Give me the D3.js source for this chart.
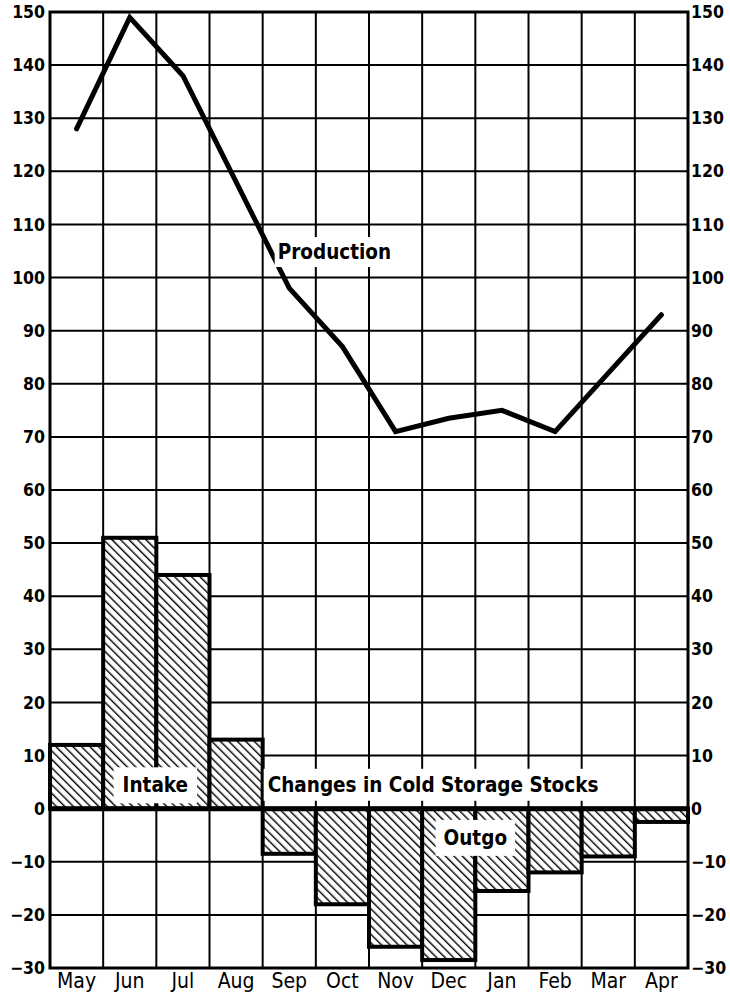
<!DOCTYPE html>
<html>
<head>
<meta charset="utf-8">
<script src="https://cdn.jsdelivr.net/npm/d3@7"></script>
<style>
  body { margin: 0; background: #fff; }
  text { font-family: "DejaVu Sans Condensed", "DejaVu Sans", sans-serif; }
</style>
</head>
<body>
<div id="chart"></div>
<script>
var months = ['May', 'Jun', 'Jul', 'Aug', 'Sep', 'Oct', 'Nov', 'Dec', 'Jan', 'Feb', 'Mar', 'Apr']
var production = [128, 149, 138, 118, 98, 87, 71, 73.5, 75, 71, 82, 93]
var stockChange = [12, 51, 44, 13, -8.5, -18, -26, -28.5, -15.5, -12, -9, -2.5]
var yTicks = [150, 140, 130, 120, 110, 100, 90, 80, 70, 60, 50, 40, 30, 20, 10, 0, -10, -20, -30]

var margin = { top: 12, right: 42, bottom: 31, left: 50 },
    width = 730 - margin.left - margin.right,
    height = 999 - margin.top - margin.bottom

var svg = d3.select('#chart').append('svg')
    .attr('width', 730).attr('height', 999)

var defs = svg.append('defs')
var pat = defs.append('pattern')
    .attr('id', 'hatch')
    .attr('patternUnits', 'userSpaceOnUse')
    .attr('width', 6).attr('height', 6)
    .attr('patternTransform', 'rotate(-45)')
pat.append('rect').attr('width', 6).attr('height', 6).attr('fill', '#fff')
pat.append('line').attr('x1', 0).attr('y1', 0).attr('x2', 0).attr('y2', 6)
    .attr('stroke', '#000').attr('stroke-width', 2.8)

var g = svg.append('g').attr('transform', 'translate(' + margin.left + ',' + margin.top + ')')

var x = d3.scaleBand().domain(months).range([0, width]).padding(0)
var y = d3.scaleLinear().domain([-30, 150]).range([height, 0])

// grid
g.append('g').selectAll('line.h').data(yTicks).enter().append('line')
    .attr('x1', 0).attr('x2', width)
    .attr('y1', function (d) { return y(d) }).attr('y2', function (d) { return y(d) })
    .attr('stroke', '#000').attr('stroke-width', 2)
g.append('g').selectAll('line.v').data(months.slice(1)).enter().append('line')
    .attr('x1', function (d) { return x(d) }).attr('x2', function (d) { return x(d) })
    .attr('y1', 0).attr('y2', height)
    .attr('stroke', '#000').attr('stroke-width', 2)

// bars
g.append('g').selectAll('rect').data(stockChange).enter().append('rect')
    .attr('x', function (d, i) { return x(months[i]) })
    .attr('width', x.bandwidth())
    .attr('y', function (d) { return y(Math.max(0, d)) })
    .attr('height', function (d) { return Math.abs(y(d) - y(0)) })
    .attr('fill', 'url(#hatch)')
    .attr('stroke', '#000').attr('stroke-width', 4)

// labels on bars with white boxes
function boxLabel(txt, cx, cy, size, anchor, padX, padY) {
    var t = g.append('text').attr('x', cx).attr('y', cy)
        .attr('text-anchor', anchor).attr('dominant-baseline', 'central')
        .attr('font-size', size).attr('font-weight', 'bold').text(txt)
    var bb = t.node().getBBox()
    g.insert('rect', function () { return t.node() })
        .attr('x', bb.x - padX).attr('y', bb.y - padY)
        .attr('width', bb.width + 2 * padX).attr('height', bb.height + 2 * padY)
        .attr('fill', '#fff')
    return t
}
boxLabel('Intake', x('Jul') - 1, y(4.4), 20.5, 'middle', 9, 6)
boxLabel('Outgo', x('Jan'), y(-5.5), 20.5, 'middle', 8, 6)
boxLabel('Changes in Cold Storage Stocks', x('Sep') + 5, y(4.5), 20.5, 'start', 4, 4)

// zero line
g.append('line').attr('x1', 0).attr('x2', width)
    .attr('y1', y(0)).attr('y2', y(0))
    .attr('stroke', '#000').attr('stroke-width', 5)

// production line
var line = d3.line()
    .x(function (d, i) { return x(months[i]) + x.bandwidth() / 2 })
    .y(function (d) { return y(d) })
g.append('path').datum(production)
    .attr('d', line).attr('fill', 'none')
    .attr('stroke', '#000').attr('stroke-width', 5)
    .attr('stroke-linejoin', 'miter').attr('stroke-linecap', 'round')

boxLabel('Production', x('Sep') + 15, y(104.8), 20.5, 'start', 3, 3)

// frame
g.append('rect').attr('width', width).attr('height', height)
    .attr('fill', 'none').attr('stroke', '#000').attr('stroke-width', 3)

// axes
var yl = g.append('g').call(d3.axisLeft(y).tickValues(yTicks).tickSize(0).tickPadding(5))
var yr = g.append('g').attr('transform', 'translate(' + width + ',0)')
    .call(d3.axisRight(y).tickValues(yTicks).tickSize(0).tickPadding(3))
var xb = g.append('g').attr('transform', 'translate(0,' + height + ')')
    .call(d3.axisBottom(x).tickSize(0).tickPadding(5))
;[yl, yr, xb].forEach(function (a) { a.select('.domain').remove() })
yl.selectAll('text').attr('font-size', 17.5).attr('font-weight', 'bold').attr('fill', '#000')
    .attr('font-family', 'DejaVu Sans, sans-serif')
yr.selectAll('text').attr('font-size', 17.5).attr('font-weight', 'bold').attr('fill', '#000')
    .attr('font-family', 'DejaVu Sans, sans-serif')
xb.selectAll('text').attr('font-size', 21).attr('fill', '#000')
</script>
</body>
</html>
